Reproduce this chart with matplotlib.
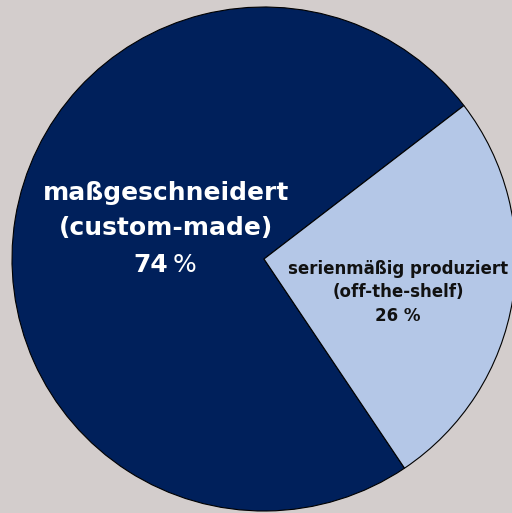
import matplotlib.pyplot as plt

# Anteile
label_lines = [["maßgeschneidert", "(custom-made)"],
               ["serienmäßig produziert", "(off-the-shelf)"]]
values = [74, 26]
colors = ["#00205b", "#b4c7e7"]
text_colors = ["white", "#111111"]

fig = plt.figure(figsize=(5.12, 5.13), dpi=100)
fig.patch.set_facecolor("#d3cdcc")
ax = fig.add_axes([0, 0, 1, 1])
ax.set_facecolor("#d3cdcc")

# Bildkoordinaten in Pixeln, y nach oben
H = 513
cx, cy, r = 264, H - 259, 252
wedges, _ = ax.pie(
    values,
    colors=colors,
    startangle=37.5,
    counterclock=True,
    center=(cx, cy),
    radius=r,
    wedgeprops=dict(edgecolor="black", linewidth=0.8),
    frame=True,
)
ax.set_xlim(0, 512)
ax.set_ylim(0, H)
ax.set_aspect("equal")
ax.axis("off")

# Beschriftung großes Segment
lx = 166
for line, y in zip(label_lines[0], [193, 228]):
    ax.text(lx, H - y, line, ha="center", va="center", color=text_colors[0],
            fontsize=18, fontweight="bold")
ax.text(lx + 2, H - 265, f"{values[0]}", ha="right", va="center", color=text_colors[0],
        fontsize=18, fontweight="bold")
ax.text(lx + 7, H - 265, "%", ha="left", va="center", color=text_colors[0],
        fontsize=18)

# Beschriftung kleines Segment
rx = 398
for line, y in zip(label_lines[1], [269, 292]):
    ax.text(rx, H - y, line, ha="center", va="center", color=text_colors[1],
            fontsize=12, fontweight="bold")
ax.text(rx, H - 316, f"{values[1]} %", ha="center", va="center", color=text_colors[1],
        fontsize=12, fontweight="bold")

plt.savefig("out.png", dpi=100, facecolor=fig.get_facecolor())
